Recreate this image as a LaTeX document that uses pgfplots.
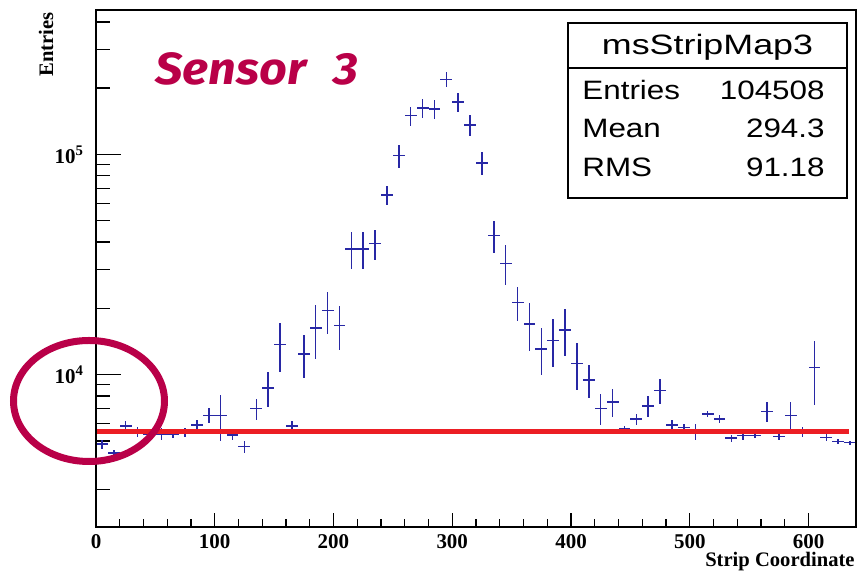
\documentclass[border=0pt]{standalone}
\usepackage{pgfplots}
\pgfplotsset{compat=1.18}
\usepackage{pgfplotstable}
\usepackage{fontspec}
\setmainfont{Liberation Serif}
\newfontfamily\statfont[FakeStretch=1.18]{Liberation Sans}
\newfontfamily\titlefont[FakeStretch=1.28]{Liberation Sans}
\newfontfamily\sensorfont[FakeStretch=1.08]{Fira Sans}
\definecolor{rootblue}{RGB}{40,40,165}
\definecolor{crimson}{RGB}{185,0,72}
\definecolor{fitred}{RGB}{236,30,36}

\pgfplotstableread{
x y ex ey
5 4830 5 220
15 4400 5 150
25 5850 5 280
35 5510 5 280
45 5380 5 250
55 5380 5 350
65 5380 5 250
75 5450 5 270
85 5900 5 350
95 6530 5 520
105 6530 5 1550
115 5310 5 250
125 4710 5 300
135 7000 5 760
145 8700 5 1540
155 13700 5 3400
165 5850 5 280
175 12400 5 2750
185 16300 5 4500
195 19500 5 4260
205 16700 5 3730
215 37200 5 7000
225 37200 5 7000
235 39400 5 6150
245 65300 5 6250
255 98900 5 11900
265 150000 5 15000
275 162500 5 16000
285 160800 5 16000
295 219000 5 17600
305 173000 5 17500
315 136000 5 14300
325 91400 5 11000
335 42800 5 7250
345 32000 5 6600
355 21200 5 3700
365 17000 5 4200
375 13090 5 3150
385 14300 5 3500
395 15970 5 3800
405 11220 5 2700
415 9460 5 1620
425 7030 5 1130
435 7510 5 1090
445 5650 5 200
455 6270 5 350
465 7210 5 770
475 8460 5 1090
485 5890 5 300
495 5740 5 200
505 5510 5 480
515 6630 5 200
525 6270 5 270
535 5140 5 200
545 5280 5 220
555 5280 5 150
565 6800 5 710
575 5230 5 180
585 6520 5 990
595 5510 5 300
605 10760 5 3500
615 5180 5 200
625 4980 5 120
635 4910 5 100
}\datatable

\begin{document}
\begin{tikzpicture}
\useasboundingbox (0,0) rectangle (429.5pt,286pt);
\begin{axis}[
  at={(48pt,22.5pt)}, anchor=south west,
  scale only axis, width=380pt, height=258.5pt,
  xmin=0, xmax=640, ymode=log, ymin=2032, ymax=452900,
  axis line style={line width=1pt},
  xtick=\empty,
  ytick={10000,100000},
  yticklabels={{\textbf{10}\textsuperscript{\textbf{4}}},{\textbf{10}\textsuperscript{\textbf{5}}}},
  minor ytick={3000,4000,5000,6000,7000,8000,9000,20000,30000,40000,50000,60000,70000,80000,90000,200000,300000,400000},
  ytick pos=left, tick align=inside,
  major tick length=12.5pt, minor tick length=7pt,
  tick style={black, line width=0.7pt},
  yticklabel style={font=\bfseries\fontsize{10.5}{12}\selectfont, xshift=-2.5pt},
]
\addplot[draw=none, mark=none,
  error bars/.cd, x dir=both, x explicit, y dir=both, y explicit, error mark=none,
  error bar style={draw=rootblue, line width=0.75pt}]
  table[x=x, y=y, x error=ex, y error=ey]{\datatable};
\addplot[fitred, line width=2.2pt, mark=none] coordinates {(0,5510) (634,5510)};
\end{axis}
\begin{axis}[
  at={(48pt,22.5pt)}, anchor=south west,
  scale only axis, width=380pt, height=258.5pt,
  xmin=0, xmax=640, ymin=0, ymax=1,
  axis line style={line width=1pt},
  ytick=\empty,
  xtick={0,100,200,300,400,500,600},
  xticklabels={0,100,200,300,400,500,600},
  minor x tick num=4,
  xtick pos=bottom, tick align=inside,
  major tick length=7pt, minor tick length=4pt,
  tick style={black, line width=0.7pt},
  xticklabel style={font=\bfseries\fontsize{10.5}{12}\selectfont, yshift=0pt},
]
\end{axis}
\begin{scope}[shift={(0,286pt)}, x=0.5pt, y=-0.5pt]
  \draw[crimson, line width=3.5pt] (89,401) ellipse [x radius=37.75pt, y radius=30.25pt];
  \node[anchor=base east, inner sep=0, font=\bfseries\fontsize{10.3}{12}\selectfont] at (855,567) {Strip Coordinate};
  \node[anchor=base east, rotate=90, inner sep=0, font=\bfseries\fontsize{10.3}{12}\selectfont] at (53,12) {Entries};
  \node[anchor=base west, inner sep=0, text=crimson, font=\sensorfont\bfseries\itshape\fontsize{22.5}{26}\selectfont] at (155,85) {Sensor};
  \node[anchor=base west, inner sep=0, text=crimson, font=\sensorfont\bfseries\itshape\fontsize{22.5}{26}\selectfont] at (333,85) {3};
  \draw[line width=0.6pt, fill=white] (568,23) rectangle (847,198);
  \draw[line width=0.6pt] (568,68) -- (847,68);
  \node[anchor=base, inner sep=0, font=\titlefont\fontsize{14}{16}\selectfont] at (707.5,55) {msStripMap3};
  \node[anchor=base west, inner sep=0, font=\statfont\fontsize{13.3}{15}\selectfont] at (582,100) {Entries};
  \node[anchor=base east, inner sep=0, font=\statfont\fontsize{13.3}{15}\selectfont] at (825,100) {104508};
  \node[anchor=base west, inner sep=0, font=\statfont\fontsize{13.3}{15}\selectfont] at (582,138) {Mean};
  \node[anchor=base east, inner sep=0, font=\statfont\fontsize{13.3}{15}\selectfont] at (825,138) {294.3};
  \node[anchor=base west, inner sep=0, font=\statfont\fontsize{13.3}{15}\selectfont] at (582,177) {RMS};
  \node[anchor=base east, inner sep=0, font=\statfont\fontsize{13.3}{15}\selectfont] at (825,177) {91.18};
\end{scope}
\end{tikzpicture}
\end{document}
